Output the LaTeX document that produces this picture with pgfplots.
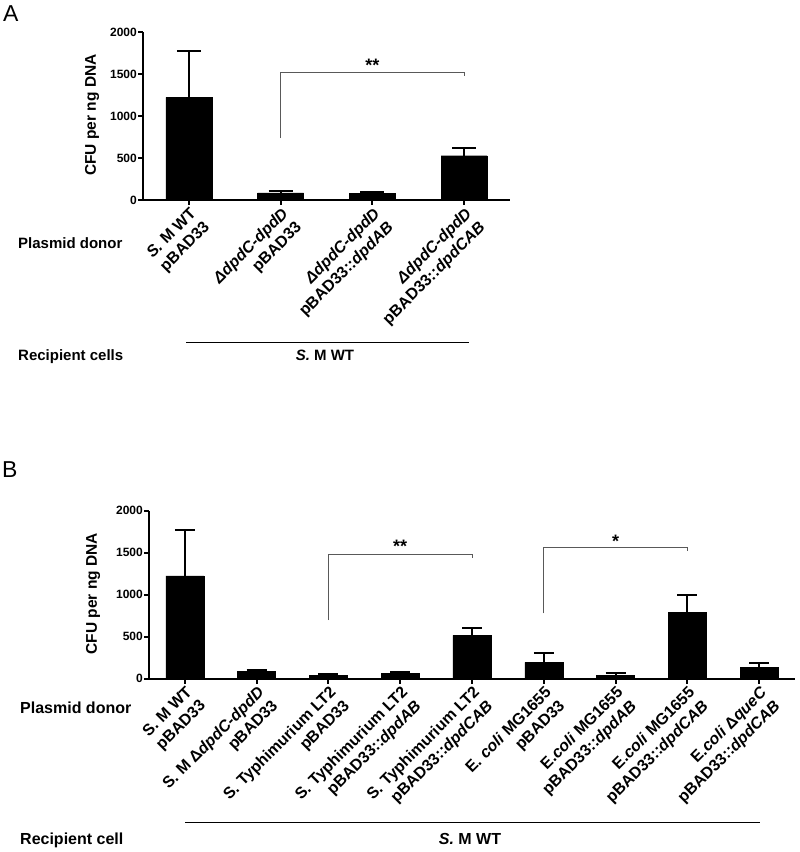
\documentclass[border=0pt]{standalone}
\usepackage{fontspec}
\setmainfont{Liberation Sans}
\usepackage{pgfplots}
\pgfplotsset{compat=1.18}
\begin{document}
\begin{tikzpicture}[x=1pt,y=1pt]
\path (0pt,0pt) rectangle (800pt,852pt);
\pgfplotsset{
  cfu/.style={
    scale only axis,
    height=168pt,
    axis lines*=left,
    axis line style={line width=2pt,-},
    ymin=0, ymax=2000,
    ytick={0,500,1000,1500,2000},
    enlargelimits=false,
    tick align=outside,
    major tick length=5pt,
    tick style={line width=2pt, black},
    xtick=data,
    /pgf/number format/1000 sep={},
    /pgf/number format/assume math mode=true,
    yticklabel style={font=\bfseries\fontsize{12}{12}\selectfont, inner sep=1pt},
    xticklabel style={rotate=45, anchor=north east, align=right,
      font=\bfseries\fontsize{16}{19}\selectfont, inner sep=1pt},
    ylabel={CFU per ng DNA},
    ybar,
    clip=false,
  }
}
% ---------- Panel A ----------
\begin{axis}[cfu,
  at={(143pt,652pt)}, anchor=south west,
  width=367pt,
  xmin=-0.5, xmax=3.5,
  bar width=0.5,
  xticklabels={{\textit{S.} M WT\\pBAD33},
               {\textit{ΔdpdC-dpdD}\\pBAD33},
               {\textit{ΔdpdC-dpdD}\\pBAD33::\textit{dpdAB}},
               {\textit{ΔdpdC-dpdD}\\pBAD33::\textit{dpdCAB}}},
  ylabel style={font=\bfseries\fontsize{15.5}{16}\selectfont,
    at={(axis description cs:-0.139,0.506)}, anchor=center},
]
\addplot[fill=black, draw=black,
  error bars/.cd, y dir=plus, y explicit,
  error bar style={line width=2pt, black},
  error mark options={rotate=90, line width=2pt, mark size=12pt, black}]
  table[x=x, y=y, y error=e] {
x y e
0 1222 552
1 85 18
2 78 15
3 527 88
};
\draw[line width=1pt, black!65] (axis cs:1,738) |- (axis cs:3,1516) -- (axis cs:3,1476);
\node[anchor=base, inner sep=0, font=\bfseries\fontsize{18}{18}\selectfont] at (axis cs:2,1525) {**};
\end{axis}
% ---------- Panel B ----------
\begin{axis}[cfu,
  at={(149pt,173.4pt)}, anchor=south west,
  width=646pt,
  xmin=-0.5, xmax=8.5,
  bar width=0.53,
  xticklabels={{S. M WT\\pBAD33},
               {S. M Δ\textit{dpdC-dpdD}\\pBAD33},
               {S. Typhimurium LT2\\pBAD33},
               {S. Typhimurium LT2\\pBAD33::\textit{dpdAB}},
               {S. Typhimurium LT2\\pBAD33::\textit{dpdCAB}},
               {E. \textit{coli} MG1655\\pBAD33},
               {E.\textit{coli} MG1655\\pBAD33::\textit{dpdAB}},
               {E.\textit{coli} MG1655\\pBAD33::\textit{dpdCAB}},
               {E.\textit{coli} Δ\textit{queC}\\pBAD33::\textit{dpdCAB}}},
  ylabel style={font=\bfseries\fontsize{15.5}{16}\selectfont,
    at={(axis description cs:-0.0867,0.506)}, anchor=center},
]
\addplot[fill=black, draw=black,
  error bars/.cd, y dir=plus, y explicit,
  error bar style={line width=2pt, black},
  error mark options={rotate=90, line width=2pt, mark size=10pt, black}]
  table[x=x, y=y, y error=e] {
x y e
0 1224 543
1 85 20
2 38 22
3 62 18
4 515 87
5 194 107
6 42 25
7 788 202
8 135 47
};
\draw[line width=1pt, black!65] (axis cs:2,697) |- (axis cs:4,1477) -- (axis cs:4,1437);
\node[anchor=base, inner sep=0, font=\bfseries\fontsize{18}{18}\selectfont] at (axis cs:3,1505) {**};
\draw[line width=1pt, black!65] (axis cs:5,776) |- (axis cs:7,1560) -- (axis cs:7,1516);
\node[anchor=base, inner sep=0, font=\bfseries\fontsize{18}{18}\selectfont] at (axis cs:6,1565) {*};
\end{axis}
% ---------- annotations ----------
\node[anchor=base west, inner sep=0, font=\fontsize{23}{23}\selectfont] at (3pt,830.3pt) {A};
\node[anchor=base west, inner sep=0, font=\fontsize{23}{23}\selectfont] at (2pt,374pt) {B};
\node[anchor=base west, inner sep=0, font=\bfseries\fontsize{15}{15}\selectfont] at (18pt,603.5pt) {Plasmid donor};
\node[anchor=base west, inner sep=0, font=\bfseries\fontsize{15}{15}\selectfont] at (18pt,491pt) {Recipient cells};
\node[anchor=base, inner sep=0, font=\bfseries\fontsize{15}{15}\selectfont] at (325pt,491pt) {\textit{S.} M WT};
\draw[line width=1.5pt] (186pt,509.3pt) -- (469pt,509.3pt);
\node[anchor=base west, inner sep=0, font=\bfseries\fontsize{16}{16}\selectfont] at (20pt,138pt) {Plasmid donor};
\node[anchor=base west, inner sep=0, font=\bfseries\fontsize{16}{16}\selectfont] at (20pt,7pt) {Recipient cell};
\node[anchor=base, inner sep=0, font=\bfseries\fontsize{16}{16}\selectfont] at (470pt,7pt) {\textit{S.} M WT};
\draw[line width=1.5pt] (185pt,29.3pt) -- (760pt,29.3pt);
\end{tikzpicture}
\end{document}
